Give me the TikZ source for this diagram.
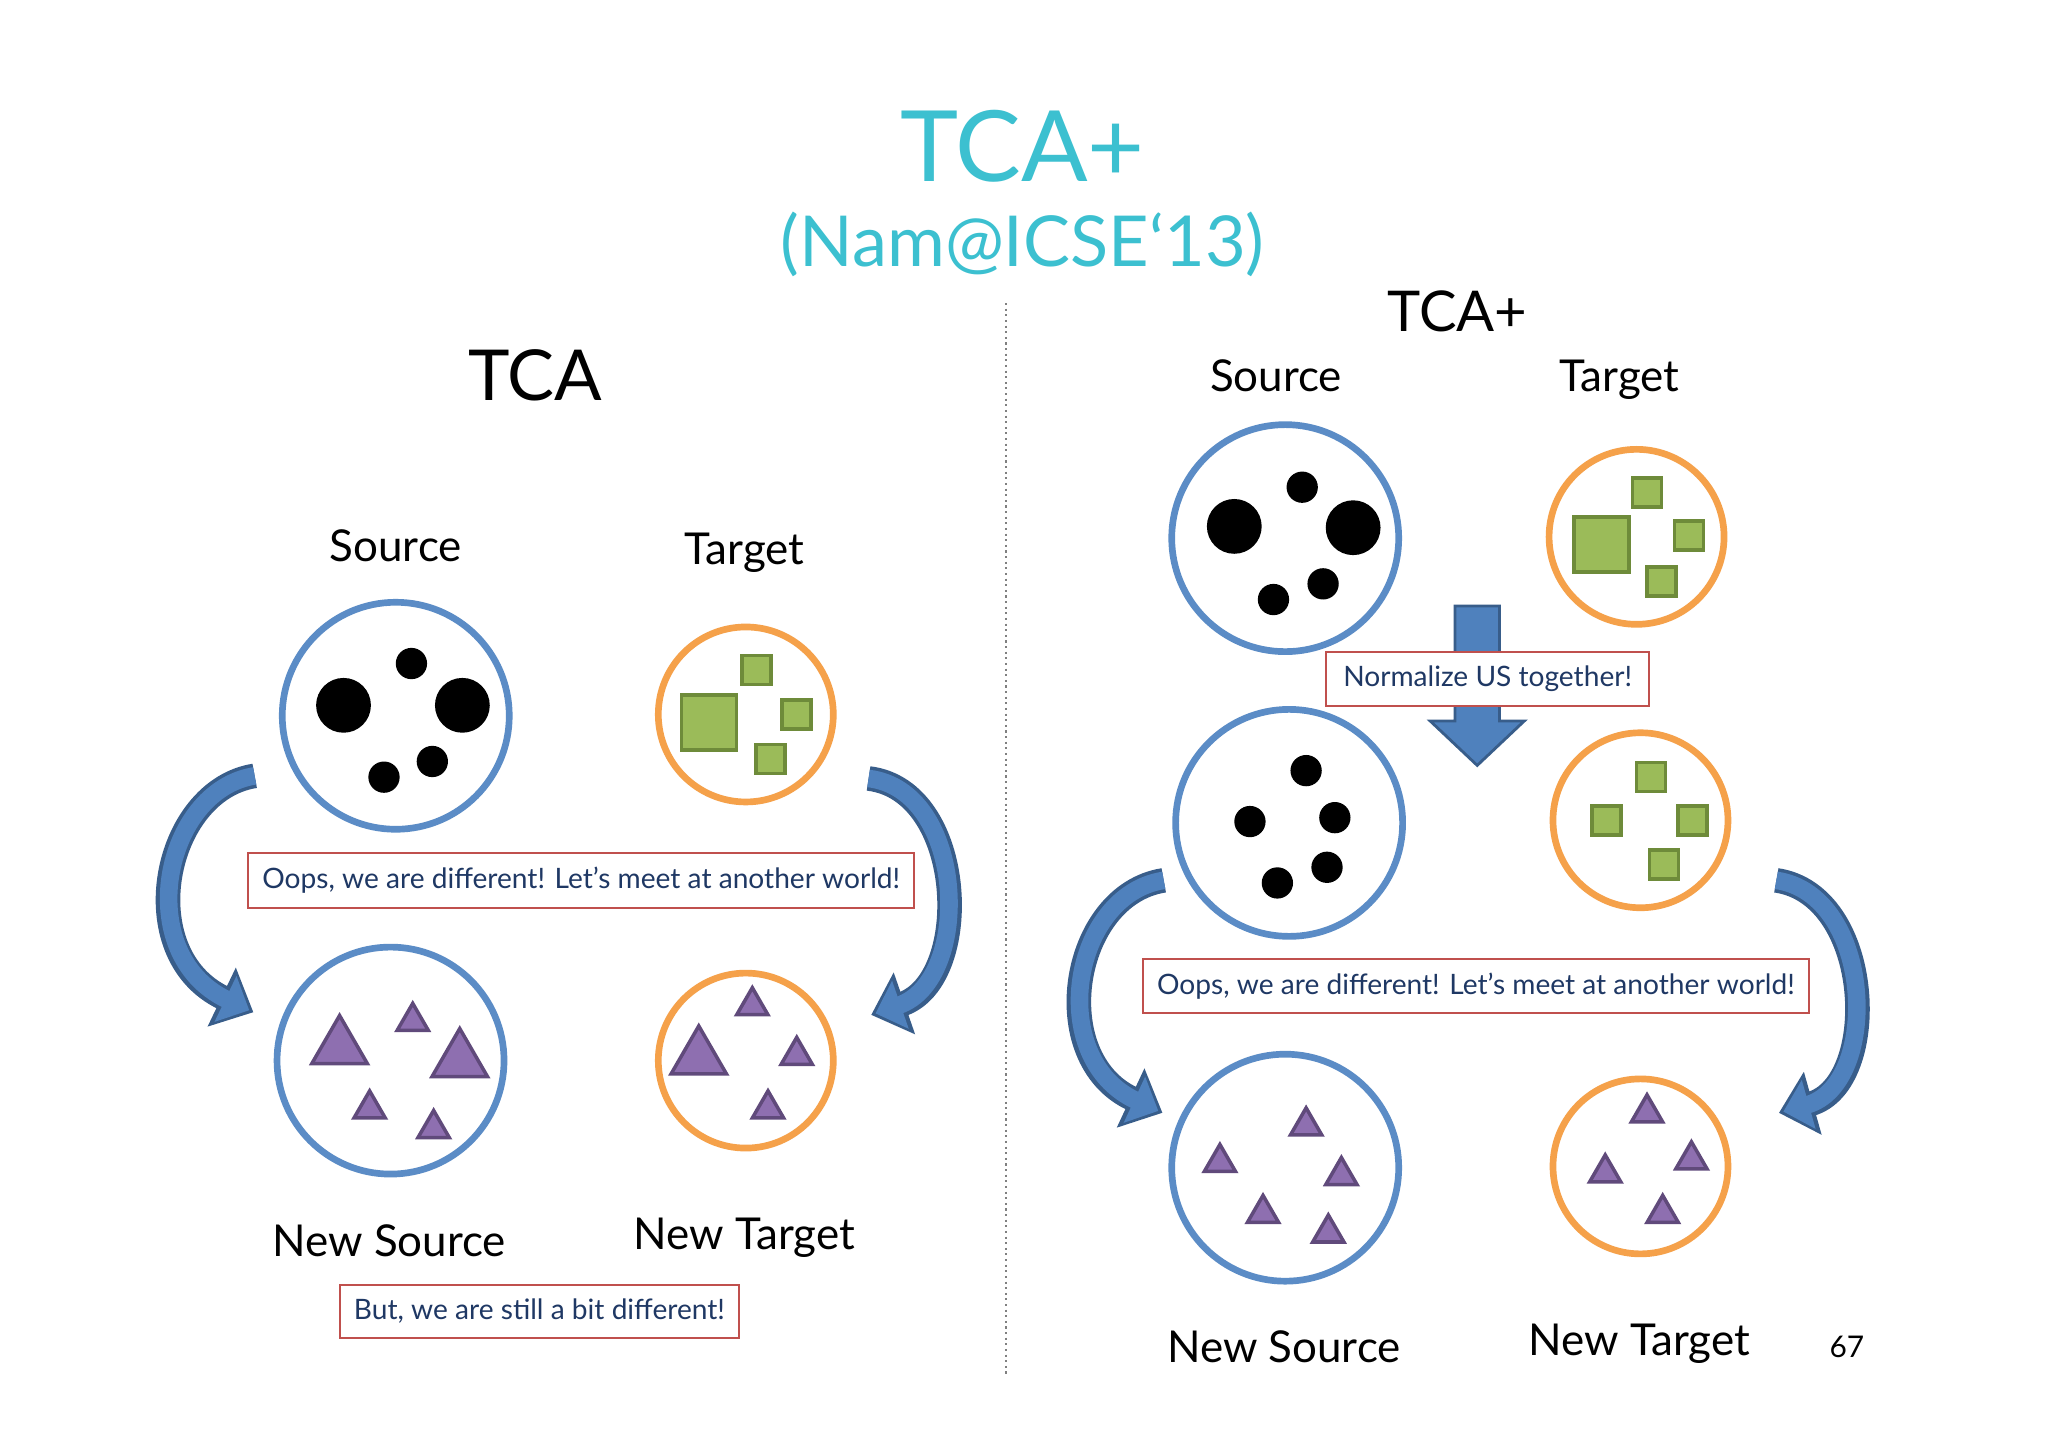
\documentclass[tikz,border=0pt]{standalone}
\usepackage{fontspec}
\setmainfont{Lato}
\usetikzlibrary{shapes.geometric,arrows.meta}
\definecolor{cblue}{HTML}{5B8CC6}
\definecolor{corange}{HTML}{F5A14A}
\definecolor{cgreen}{HTML}{9BBB59}
\definecolor{cgreenD}{HTML}{6E8B3A}
\definecolor{cpurple}{HTML}{8E6FB0}
\definecolor{cpurpleD}{HTML}{604A7B}
\definecolor{ccyan}{HTML}{3CC0D0}
\definecolor{cred}{HTML}{C0504D}
\definecolor{cnavy}{HTML}{1F3864}
\definecolor{arrB}{HTML}{4F81BD}
\definecolor{arrD}{HTML}{385D8A}
\tikzset{
 bigc/.style={circle,draw=cblue,line width=1.9pt,minimum size=2.27cm,inner sep=0},
 smc/.style={circle,draw=corange,line width=1.9pt,minimum size=1.75cm,inner sep=0},
 dotS/.style={circle,fill=black,minimum size=0.313cm,inner sep=0},
 dotL/.style={circle,fill=black,minimum size=0.548cm,inner sep=0},
 sqS/.style={rectangle,fill=cgreen,draw=cgreenD,line width=1pt,minimum size=0.29cm,inner sep=0},
 sqL/.style={rectangle,fill=cgreen,draw=cgreenD,line width=1pt,minimum size=0.55cm,inner sep=0},
 trS/.style={regular polygon,regular polygon sides=3,fill=cpurple,draw=cpurpleD,line width=1pt,minimum size=0.36cm,inner sep=0},
 trL/.style={regular polygon,regular polygon sides=3,fill=cpurple,draw=cpurpleD,line width=1pt,minimum size=0.64cm,inner sep=0},
 lbl/.style={font=\fontsize{12.5}{14}\selectfont},
 box/.style={draw=cred,line width=0.6pt,text=cnavy,font=\fontsize{8}{10}\selectfont,inner xsep=4pt,inner ysep=4pt},
 carrow/.style={draw=arrD,line width=7pt,-{Triangle[width=18pt,length=10pt]}},
 carrowI/.style={draw=arrB,line width=5pt,-{Triangle[width=14pt,length=7.5pt]}},
}
\newcommand{\curv}[4]{%
 \draw[carrow] #1 .. controls #2 and #3 .. #4;
 \draw[carrowI,shorten >=1.3pt] #1 .. controls #2 and #3 .. #4;}
\begin{document}
\begin{tikzpicture}[x=0.01306cm,y=-0.01306cm]
\useasboundingbox[fill=white] (0,0) rectangle (1568,1108);
\node[text=ccyan,font=\fontsize{28}{30}\selectfont] (title) at (783,112) {TCA+};
\node[text=ccyan,font=\fontsize{20}{24}\selectfont] (sub) at (783,187) {(Nam@ICSE`13)};
\coordinate (vt) at (770,232); \coordinate (vb) at (770,1052);
\draw[gray,densely dotted,line width=0.6pt] (vt) -- (vb);
% ---------- left
\node[font=\fontsize{20}{24}\selectfont] (tca) at (410,287) {TCA};
\node[lbl] (ls) at (303,418) {Source};
\node[lbl] (lt) at (570,423) {Target};
\node[bigc] (c1) at (303,548) {};
\node[smc] (c2) at (571,547) {};
\node[bigc] (c3) at (299,812) {};
\node[smc] (c4) at (571,812) {};
\node[dotS] (d1) at (315,508) {}; \node[dotL] (d2) at (263,540) {};
\node[dotL] (d3) at (354,540) {}; \node[dotS] (d4) at (294,595) {};
\node[dotS] (d5) at (331,583) {};
\node[sqL] (s1) at (543,553) {}; \node[sqS] (s2) at (579,513) {};
\node[sqS] (s3) at (610,547) {}; \node[sqS] (s4) at (590,581) {};
\node[trL] (t1) at (260,802) {}; \node[trS] (t2) at (316,782) {};
\node[trL] (t3) at (352,812) {}; \node[trS] (t4) at (283,849) {};
\node[trS] (t5) at (332,864) {};
\node[trL] (u1) at (535,810) {}; \node[trS] (u2) at (576,770) {};
\node[trS] (u3) at (610,808) {}; \node[trS] (u4) at (588,849) {};
\node[box,minimum width=504*0.01306cm,minimum height=40*0.01306cm] (b1) at (445,674) {Oops, we are different! Let’s meet at another world!};
\node[lbl] (lns) at (298,950) {New Source};
\node[lbl] (lnt) at (570,948) {New Target};
\node[box,minimum width=301*0.01306cm,minimum height=39*0.01306cm] (b2) at (413,1004) {But, we are still a bit different!};
\coordinate (a1s) at (195,594); \coordinate (a1e) at (194,775);
\coordinate (a2s) at (665,596); \coordinate (a2e) at (667,777);
\curv{(a1s)}{(125,605)}{(100,730)}{(a1e)}
\curv{(a2s)}{(740,605)}{(745,750)}{(a2e)}
% ---------- right
\node[font=\fontsize{16}{20}\selectfont] (tcap) at (1116,238) {TCA+};
\node[lbl] (rs) at (977,288) {Source};
\node[lbl] (rt) at (1240,291) {Target};
\node[bigc] (r1) at (984,412) {};
\node[smc] (r2) at (1253,411) {};
\node[dotS] (e1) at (997,373) {}; \node[dotL] (e2) at (945,403) {};
\node[dotL] (e3) at (1036,404) {}; \node[dotS] (e4) at (975,459) {};
\node[dotS] (e5) at (1013,447) {};
\node[sqS] (q1) at (1261,377) {}; \node[sqL] (q2) at (1226,417) {};
\node[sqS] (q3) at (1293,410) {}; \node[sqS] (q4) at (1272,445) {};
\fill[arrB,draw=arrD,line width=0.8pt] (1114,464) -- (1148,464) -- (1148,552) -- (1167,552) -- (1131,586) -- (1095,552) -- (1114,552) -- cycle;
\node[box,fill=white,minimum width=247*0.01306cm,minimum height=40*0.01306cm] (b3) at (1139,520) {Normalize US together!};
\node[bigc] (r3) at (987,630) {};
\node[smc] (r4) at (1256,628) {};
\node[dotS] (f1) at (1000,590) {}; \node[dotS] (f2) at (957,629) {};
\node[dotS] (f3) at (1022,626) {}; \node[dotS] (f4) at (978,676) {};
\node[dotS] (f5) at (1016,664) {};
\node[sqS] (p1) at (1264,595) {}; \node[sqS] (p2) at (1230,628) {};
\node[sqS] (p3) at (1296,628) {}; \node[sqS] (p4) at (1274,662) {};
\node[box,minimum width=504*0.01306cm,minimum height=40*0.01306cm] (b4) at (1130,755) {Oops, we are different! Let’s meet at another world!};
\node[bigc] (r5) at (984,894) {};
\node[smc] (r6) at (1256,893) {};
\node[trS] (v1) at (1000,862) {}; \node[trS] (v2) at (934,890) {};
\node[trS] (v3) at (1027,900) {}; \node[trS] (v4) at (967,929) {};
\node[trS] (v5) at (1017,944) {};
\node[trS] (w1) at (1261,852) {}; \node[trS] (w2) at (1229,898) {};
\node[trS] (w3) at (1295,888) {}; \node[trS] (w4) at (1273,929) {};
\node[lbl] (rns) at (983,1031) {New Source};
\node[lbl] (rnt) at (1255,1029) {New Target};
\node[font=\fontsize{8.5}{10}\selectfont] (pg) at (1414,1031) {67};
\coordinate (a3s) at (891,674); \coordinate (a3e) at (890,852);
\coordinate (a4s) at (1360,674); \coordinate (a4e) at (1362,852);
\curv{(a3s)}{(820,685)}{(800,810)}{(a3e)}
\curv{(a4s)}{(1435,685)}{(1440,830)}{(a4e)}
\end{tikzpicture}
\end{document}
